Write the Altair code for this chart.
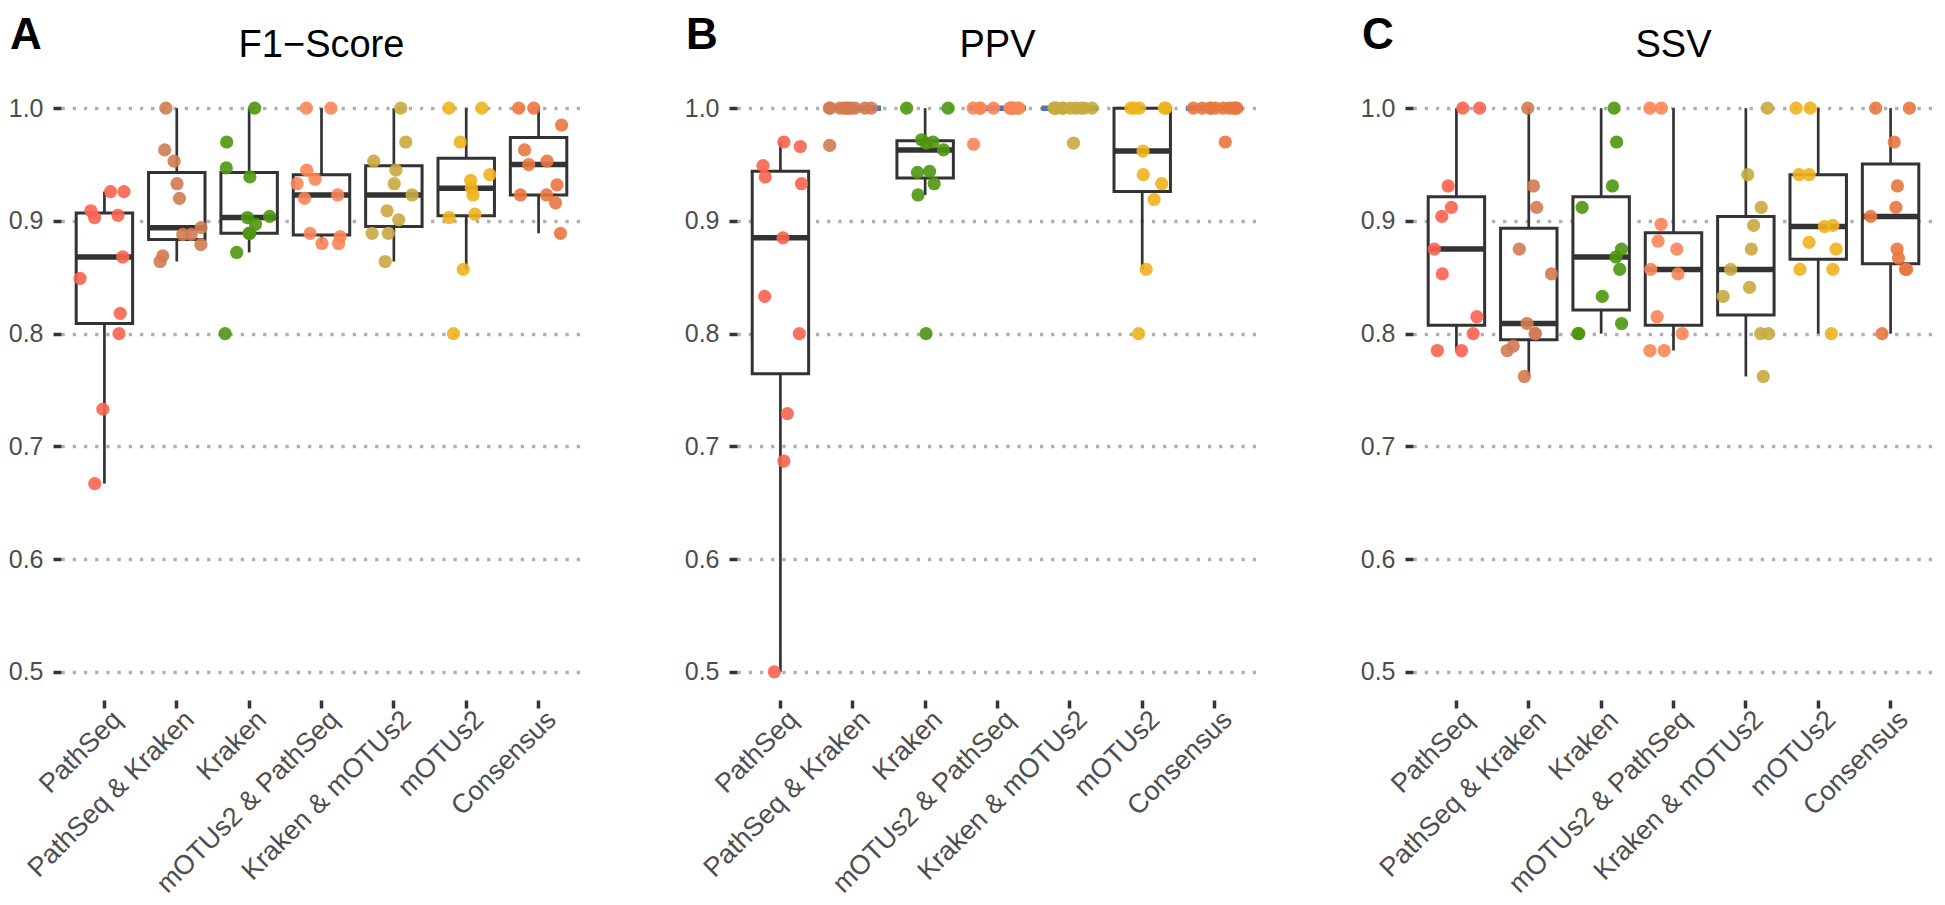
import altair as alt
import numpy as np
import pandas as pd

methods = ["PathSeq", "PathSeq & Kraken", "Kraken", "mOTUs2 & PathSeq",
           "Kraken & mOTUs2", "mOTUs2", "Consensus"]
colors = ["#FC6350", "#D27B52", "#4E960E", "#FC8556", "#C9AA3E", "#F0B31E", "#E9773F"]

metrics = ["F1-Score", "PPV", "SSV"]
panel_titles = ["F1\u2212Score", "PPV", "SSV"]
panel_letters = ["A", "B", "C"]

# F1-Score values per method
f1_pathseq = [0.926, 0.926, 0.905, 0.909, 0.903, 0.868, 0.849, 0.818, 0.800, 0.733, 0.667]
f1_pathseq_kraken = [1.0, 0.963, 0.953, 0.933, 0.920, 0.894, 0.888, 0.888, 0.879, 0.869, 0.864]
f1_kraken = [1.0, 0.970, 0.947, 0.939, 0.903, 0.904, 0.897, 0.889, 0.889, 0.872, 0.800]
f1_motus_pathseq = [1.0, 1.0, 0.945, 0.937, 0.933, 0.923, 0.920, 0.889, 0.886, 0.880, 0.880]
f1_kraken_motus = [1.0, 0.970, 0.953, 0.945, 0.933, 0.923, 0.909, 0.901, 0.889, 0.889, 0.864]
f1_motus = [1.0, 1.0, 0.970, 0.941, 0.936, 0.929, 0.923, 0.906, 0.903, 0.857, 0.800]
f1_consensus = [1.0, 1.0, 0.985, 0.963, 0.953, 0.950, 0.932, 0.923, 0.923, 0.916, 0.889]

# PPV values per method
ppv_pathseq = [0.966, 0.970, 0.949, 0.939, 0.933, 0.885, 0.833, 0.800, 0.729, 0.687, 0.500]
ppv_pathseq_kraken = [1.0, 1.0, 1.0, 1.0, 1.0, 1.0, 1.0, 1.0, 1.0, 1.0, 0.967]
ppv_kraken = [1.0, 1.0, 0.970, 0.972, 0.969, 0.963, 0.943, 0.944, 0.933, 0.923, 0.800]
ppv_motus_pathseq = [1.0, 1.0, 1.0, 1.0, 1.0, 1.0, 1.0, 1.0, 1.0, 1.0, 0.968]
ppv_kraken_motus = [1.0, 1.0, 1.0, 1.0, 1.0, 1.0, 1.0, 1.0, 1.0, 1.0, 0.969]
ppv_motus = [1.0, 1.0, 1.0, 1.0, 1.0, 0.962, 0.941, 0.933, 0.919, 0.857, 0.800]
ppv_consensus = [1.0, 1.0, 1.0, 1.0, 1.0, 1.0, 1.0, 1.0, 1.0, 1.0, 0.970]

# SSV values per method
ssv_pathseq = [1.0, 1.0, 0.931, 0.912, 0.904, 0.875, 0.853, 0.815, 0.800, 0.785, 0.785]
ssv_pathseq_kraken = [1.0, 0.931, 0.912, 0.875, 0.853, 0.809, 0.800, 0.800, 0.789, 0.785, 0.762]
ssv_kraken = [1.0, 0.970, 0.931, 0.912, 0.875, 0.868, 0.857, 0.833, 0.809, 0.800, 0.800]
ssv_motus_pathseq = [1.0, 1.0, 0.897, 0.882, 0.875, 0.857, 0.853, 0.815, 0.800, 0.785, 0.785]
ssv_kraken_motus = [1.0, 0.941, 0.912, 0.896, 0.875, 0.857, 0.841, 0.833, 0.800, 0.800, 0.762]
ssv_motus = [1.0, 1.0, 0.941, 0.941, 0.895, 0.896, 0.881, 0.875, 0.857, 0.857, 0.800]
ssv_consensus = [1.0, 1.0, 0.970, 0.931, 0.912, 0.904, 0.867, 0.875, 0.857, 0.857, 0.800]

series = {
    "F1-Score": [f1_pathseq, f1_pathseq_kraken, f1_kraken, f1_motus_pathseq,
                 f1_kraken_motus, f1_motus, f1_consensus],
    "PPV": [ppv_pathseq, ppv_pathseq_kraken, ppv_kraken, ppv_motus_pathseq,
            ppv_kraken_motus, ppv_motus, ppv_consensus],
    "SSV": [ssv_pathseq, ssv_pathseq_kraken, ssv_kraken, ssv_motus_pathseq,
            ssv_kraken_motus, ssv_motus, ssv_consensus],
}

# horizontal jitter (like geom_jitter), deterministic
rng = np.random.default_rng(7)
rows = []
for metric in metrics:
    for method, vals in zip(methods, series[metric]):
        for v in vals:
            rows.append({"metric": metric, "method": method, "value": v,
                         "jit": float(rng.uniform(-0.34, 0.34))})
df = pd.DataFrame(rows)

FONT = "Liberation Sans"
W = 521
H = 620
STEP = W / 7.2
BOX = 0.78 * STEP


def panel(metric, title, letter):
    d = df[df["metric"] == metric]
    x = alt.X("method:N", sort=methods, title=None,
              scale=alt.Scale(domain=methods, paddingInner=0, paddingOuter=0.1),
              axis=alt.Axis(labelAngle=315, labelAlign="right", labelBaseline="top",
                            labelFontSize=27, labelColor="#4D4D4D", labelFont=FONT,
                            labelPadding=-2, labelOffset=4, tickSize=8, tickWidth=3.5,
                            tickColor="#333333", domain=False, grid=False,
                            labelLimit=400))
    y = alt.Y("value:Q", title=None,
              scale=alt.Scale(domain=[0.475, 1.025], nice=False, zero=False),
              axis=alt.Axis(values=[0.5, 0.6, 0.7, 0.8, 0.9, 1.0], format=".1f",
                            labelFontSize=25, labelColor="#4D4D4D", labelFont=FONT,
                            labelPadding=10, tickSize=8, tickWidth=3.5,
                            tickColor="#333333", domain=False, grid=True,
                            gridColor="#B0B0B0", gridWidth=3.3, gridDash=[3.3, 7.9]))
    box = alt.Chart(d).mark_boxplot(
        extent=1.5, outliers=False, size=BOX, color="#333333",
        box={"fill": "white", "stroke": "#333333", "strokeWidth": 3, "opacity": 1},
        median={"color": "#333333", "thickness": 5.5, "opacity": 1},
        rule={"color": "#333333", "strokeWidth": 2.7, "opacity": 1},
    ).encode(x=x, y=y)
    pts = alt.Chart(d).mark_circle(size=175, opacity=0.9).encode(
        x=x, y=y,
        xOffset=alt.XOffset("jit:Q", scale=alt.Scale(domain=[-0.5, 0.5], range=[0, STEP])),
        color=alt.Color("method:N", scale=alt.Scale(domain=methods, range=colors), legend=None),
    )
    lab = alt.Chart(pd.DataFrame({"t": [letter]})).mark_text(
        font=FONT, fontSize=44, fontWeight="bold", color="black",
        align="left", baseline="alphabetic",
    ).encode(text="t:N", x=alt.value(-51), y=alt.value(-31))
    ttl = alt.Chart(pd.DataFrame({"t": [title]})).mark_text(
        font=FONT, fontSize=38, color="black", align="center", baseline="alphabetic",
    ).encode(text="t:N", x=alt.value(W / 2), y=alt.value(-23))
    return alt.layer(box, pts, lab, ttl).properties(width=W, height=H)


chart = (
    alt.hconcat(
        *[panel(m, t, l) for m, t, l in zip(metrics, panel_titles, panel_letters)],
        spacing=102,
    )
    .properties(padding={"top": 6, "left": 0, "right": 0, "bottom": 0}, background="white")
    .configure(font=FONT)
    .configure_view(strokeWidth=0, stroke="transparent")
)

chart.save("out.html", embed_options={"renderer": "svg", "actions": False})
